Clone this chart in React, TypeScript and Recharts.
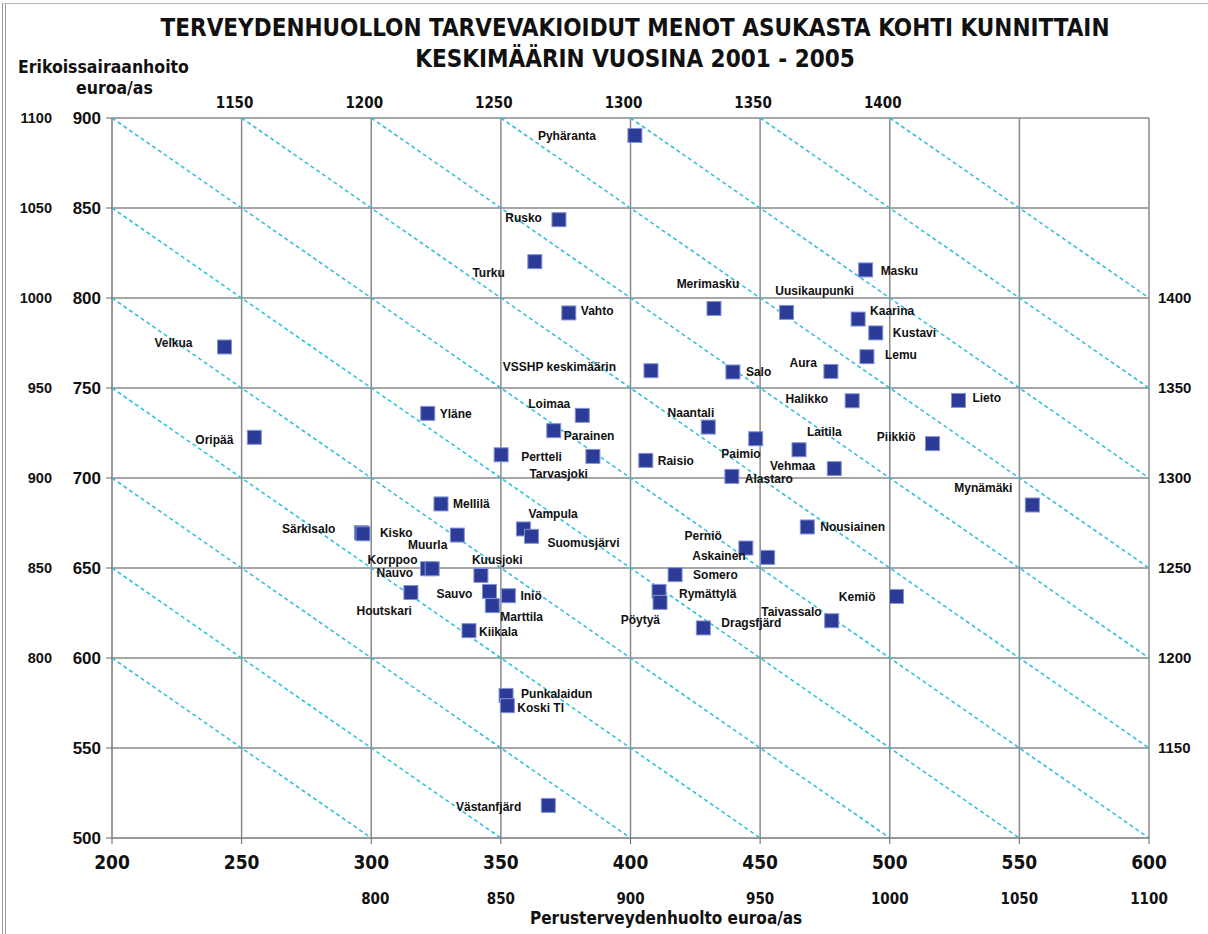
import React from 'react';
import { ScatterChart, Scatter, XAxis, YAxis, CartesianGrid, ReferenceLine, ReferenceDot } from 'recharts';

// kunnat, perusterveydenhuolto (x) ja erikoissairaanhoito (y), euroa/as
const kunnat = [
  'Pyhäranta', 'Rusko', 'Turku', 'Masku', 'Merimasku', 'Uusikaupunki', 'Vahto', 'Kaarina',
  'Kustavi', 'Velkua', 'Lemu', 'VSSHP keskimäärin', 'Salo', 'Aura', 'Halikko', 'Lieto',
  'Yläne', 'Loimaa', 'Naantali', 'Oripää', 'Parainen', 'Paimio', 'Piikkiö', 'Laitila',
  'Pertteli', 'Tarvasjoki', 'Raisio', 'Vehmaa', 'Alastaro', 'Mynämäki', 'Mellilä', 'Nousiainen',
  'Vampula', 'Suomusjärvi', 'Särkisalo', 'Kisko', 'Muurla', 'Perniö', 'Askainen', 'Korppoo',
  'Nauvo', 'Kuusjoki', 'Somero', 'Houtskari', 'Sauvo', 'Iniö', 'Rymättylä', 'Pöytyä',
  'Kemiö', 'Marttila', 'Taivassalo', 'Dragsfjärd', 'Kiikala', 'Punkalaidun', 'Koski Tl', 'Västanfjärd',
];
const perus = [
  401.7, 372.4, 363.1, 490.7, 432.2, 460.2, 376.2, 487.8,
  494.6, 243.4, 491.2, 407.9, 439.5, 477.3, 485.5, 526.5,
  321.8, 381.4, 430.0, 254.9, 370.4, 448.3, 516.5, 465.0,
  350.1, 385.5, 405.9, 478.6, 439.1, 555.0, 326.9, 468.2,
  358.7, 361.8, 296.2, 296.8, 333.2, 444.5, 452.9, 321.7,
  323.5, 342.3, 417.2, 315.3, 345.6, 352.9, 411.0, 411.4,
  502.6, 346.7, 477.6, 428.1, 337.7, 352.0, 352.5, 368.3,
];
const erikois = [
  890.3, 843.5, 820.2, 815.6, 794.2, 792.0, 791.7, 788.3,
  780.6, 772.8, 767.4, 759.6, 758.9, 759.2, 742.9, 743.1,
  735.9, 734.8, 728.3, 722.6, 726.3, 721.8, 719.1, 715.7,
  712.9, 712.0, 709.8, 705.2, 700.9, 685.0, 685.6, 672.8,
  671.7, 667.6, 669.6, 669.0, 668.3, 661.1, 655.9, 649.6,
  649.6, 645.9, 646.3, 636.4, 637.0, 634.6, 637.0, 630.9,
  634.2, 629.1, 620.7, 616.7, 615.2, 579.2, 573.5, 518.1,
];

const xTicks = [200, 250, 300, 350, 400, 450, 500, 550, 600];
const yTicks = [500, 550, 600, 650, 700, 750, 800, 850, 900];
// yhteensä-menot (perus + erikois), katkoviivat
const totals = [800, 850, 900, 950, 1000, 1050, 1100, 1150, 1200, 1250, 1300, 1350, 1400];
const topTotals = [1150, 1200, 1250, 1300, 1350, 1400];
const rightTicks = [550, 600, 650, 700, 750, 800];

const data = kunnat.map((name, i) => ({ name, x: perus[i], y: erikois[i] }));

// nimen paikka pisteeseen nähden: dx, dy, ankkuri
const labelPos: Record<string, [number, number, string]> = {
  'Pyhäranta': [-39, 0, 'end'], 'Rusko': [-17, -2, 'end'], 'Turku': [-30, 11, 'end'],
  'Masku': [15, 1, 'start'], 'Merimasku': [-6, -25, 'middle'], 'Uusikaupunki': [28, -22, 'middle'],
  'Vahto': [12, -2, 'start'], 'Kaarina': [12, -8, 'start'], 'Kustavi': [17, 0, 'start'],
  'Velkua': [-32, -4, 'end'], 'Lemu': [18, -2, 'start'], 'VSSHP keskimäärin': [-35, -4, 'end'],
  'Salo': [13, 0, 'start'], 'Aura': [-14, -9, 'end'], 'Halikko': [-24, -2, 'end'],
  'Lieto': [14, -3, 'start'], 'Yläne': [12, 0, 'start'], 'Loimaa': [-12, -12, 'end'],
  'Naantali': [6, -14, 'end'], 'Oripää': [-21, 2, 'end'], 'Parainen': [10, 5, 'start'],
  'Paimio': [5, 15, 'end'], 'Piikkiö': [-17, -7, 'end'], 'Laitila': [8, -18, 'start'],
  'Pertteli': [20, 2, 'start'], 'Tarvasjoki': [-5, 17, 'end'], 'Raisio': [12, 0, 'start'],
  'Vehmaa': [-19, -3, 'end'], 'Alastaro': [13, 2, 'start'], 'Mynämäki': [-20, -17, 'end'],
  'Mellilä': [12, 0, 'start'], 'Nousiainen': [13, 0, 'start'], 'Vampula': [5, -15, 'start'],
  'Suomusjärvi': [16, 6, 'start'], 'Särkisalo': [-26, -4, 'end'], 'Kisko': [17, -1, 'start'],
  'Muurla': [-10, 10, 'end'], 'Perniö': [-24, -12, 'end'], 'Askainen': [-22, -2, 'end'],
  'Korppoo': [-10, -9, 'end'], 'Nauvo': [-19, 4, 'end'], 'Kuusjoki': [-9, -16, 'start'],
  'Somero': [18, 0, 'start'], 'Houtskari': [1, 18, 'end'], 'Sauvo': [-17, 2, 'end'],
  'Iniö': [12, 0, 'start'], 'Rymättylä': [20, 2, 'start'], 'Pöytyä': [0, 17, 'end'],
  'Kemiö': [-21, 0, 'end'], 'Marttila': [8, 11, 'start'], 'Taivassalo': [-10, -9, 'end'],
  'Dragsfjärd': [18, -5, 'start'], 'Kiikala': [10, 1, 'start'], 'Punkalaidun': [15, -2, 'start'],
  'Koski Tl': [10, 2, 'start'], 'Västanfjärd': [-27, 1, 'end'],
};

const COND = "'DejaVu Sans Condensed', 'Liberation Sans', Arial, sans-serif";
const ARIAL = "'Liberation Sans', Arial, sans-serif";

const Marker = (props: any) => {
  const { cx, cy, payload } = props;
  const [dx, dy, anchor] = labelPos[payload.name] ?? [12, 0, 'start'];
  return (
    <g>
      <rect x={cx - 7} y={cy - 7} width={14} height={14} fill="#2c3b97" stroke="#8393d6" strokeWidth={1} />
      <text x={cx + dx} y={cy + dy} dy="0.36em" textAnchor={anchor as any}
        fontFamily={ARIAL} fontSize={12} fontWeight="bold" fill="#111">{payload.name}</text>
    </g>
  );
};

const LeftTick = (props: any) => {
  const { x, y, payload } = props;
  const v = payload.value;
  return (
    <g>
      <text x={x - 3} y={y} dy="0.36em" textAnchor="end" fontFamily={ARIAL} fontSize={17} fontWeight="bold" fill="#111">{v}</text>
      {v >= 600 && (
        <text x={x - 52} y={y} dy="0.36em" textAnchor="end" fontFamily={ARIAL} fontSize={14.5} fontWeight="bold" fill="#111">{v + 200}</text>
      )}
    </g>
  );
};

const BottomTick = (props: any) => {
  const { x, y, payload } = props;
  const v = payload.value;
  return (
    <g>
      <text x={x} y={y + 23} textAnchor="middle" fontFamily={COND} fontSize={19} fontWeight="bold" fill="#111">{v}</text>
      {v >= 300 && (
        <text x={x + (v === 300 ? 4 : 0)} y={y + 58} textAnchor="middle" fontFamily={COND} fontSize={15} fontWeight="bold" fill="#111">{v + 500}</text>
      )}
    </g>
  );
};

const RightTick = (props: any) => {
  const { x, y, payload } = props;
  return (
    <text x={x + 1} y={y} dy="0.36em" textAnchor="start" fontFamily={ARIAL} fontSize={15} fontWeight="bold" fill="#111">{payload.value + 600}</text>
  );
};

const TopSum = ({ viewBox, total }: any) => {
  if (!viewBox) return null;
  return (
    <text x={viewBox.x - 6} y={viewBox.y - 9} textAnchor="middle" fontFamily={COND} fontSize={15} fontWeight="bold" fill="#111">{total}</text>
  );
};

const segment = (c: number) => {
  const x1 = Math.max(200, c - 900);
  const x2 = Math.min(600, c - 500);
  return [{ x: x1, y: c - x1 }, { x: x2, y: c - x2 }];
};

export default function App() {
  return (
    <div style={{ position: 'relative', width: 1208, height: 934, background: '#fff', overflow: 'hidden' }}>
      <style>{`body{margin:0}`}</style>
      <div style={{ position: 'absolute', left: 2, top: 3, width: 1300, height: 1000, borderLeft: '4px double #9a9a9a', borderTop: '1px solid #b5b5b5' }} />
      <div style={{ position: 'absolute', left: 0, width: 1270, top: 13, textAlign: 'center', fontFamily: COND, fontWeight: 'bold', fontSize: 24, lineHeight: '31px', color: '#111' }}>
        TERVEYDENHUOLLON TARVEVAKIOIDUT MENOT ASUKASTA KOHTI KUNNITTAIN<br />KESKIMÄÄRIN VUOSINA 2001 - 2005
      </div>
      <div style={{ position: 'absolute', left: 18, top: 57, fontFamily: COND, fontWeight: 'bold', fontSize: 17.5, color: '#111', lineHeight: '21px', whiteSpace: 'nowrap' }}>
        Erikoissairaanhoito
      </div>
      <div style={{ position: 'absolute', left: 76, top: 78, fontFamily: COND, fontWeight: 'bold', fontSize: 17.5, color: '#111', lineHeight: '21px', whiteSpace: 'nowrap' }}>
        euroa/as
      </div>
      <div style={{ position: 'absolute', left: 530, top: 908, fontFamily: COND, fontWeight: 'bold', fontSize: 17, color: '#111', whiteSpace: 'nowrap' }}>
        Perusterveydenhuolto euroa/as
      </div>
      <ScatterChart width={1208} height={934} margin={{ top: 118, right: 9, bottom: 56, left: 17 }}>
        <CartesianGrid stroke="#8a8a8a" strokeWidth={1.5} horizontalValues={yTicks} verticalValues={xTicks} />
        <XAxis xAxisId={0} type="number" dataKey="x" domain={[200, 600]} ticks={xTicks} height={40}
          axisLine={{ stroke: '#8a8a8a' }} tickLine={{ stroke: '#666' }} tickSize={6} tick={<BottomTick />} interval={0} allowDataOverflow />
        <YAxis yAxisId={0} type="number" dataKey="y" domain={[500, 900]} ticks={yTicks} width={95}
          axisLine={{ stroke: '#8a8a8a' }} tickLine={{ stroke: '#666' }} tickSize={6} tick={<LeftTick />} interval={0} allowDataOverflow />
        <YAxis yAxisId="right" orientation="right" type="number" domain={[500, 900]} ticks={rightTicks} width={50}
          axisLine={false} tickLine={false} tick={<RightTick />} interval={0} allowDataOverflow />
        {totals.map((c) => (
          <ReferenceLine key={c} xAxisId={0} yAxisId={0} segment={segment(c)} stroke="#34c2da" strokeWidth={1.6} strokeDasharray="4 3" />
        ))}
        {topTotals.map((c) => (
          <ReferenceDot key={'t' + c} xAxisId={0} yAxisId={0} x={c - 900} y={900} r={1} fill="none" stroke="none"
            label={(p: any) => <TopSum viewBox={p.viewBox} total={c} />} />
        ))}
        <Scatter xAxisId={0} yAxisId={0} data={data} shape={<Marker />} isAnimationActive={false} />
      </ScatterChart>
    </div>
  );
}
